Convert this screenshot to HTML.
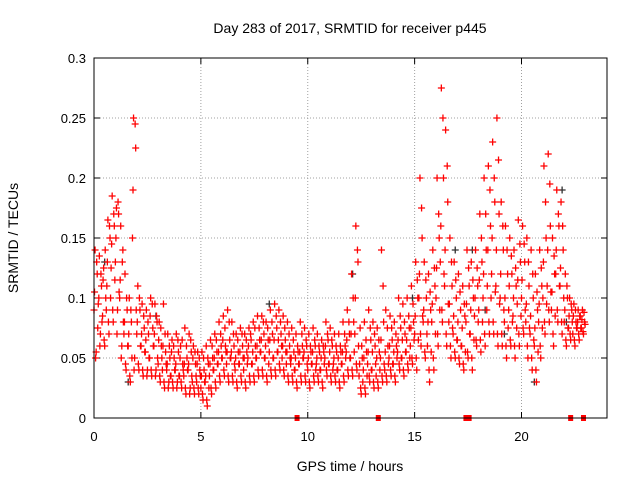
<!DOCTYPE html>
<html><head><meta charset="utf-8">
<style>
body{margin:0;background:#fff;}
svg{display:block;font-family:"Liberation Sans",sans-serif;}
</style></head>
<body>
<svg id="chart" width="640" height="480" xmlns="http://www.w3.org/2000/svg">
<rect width="640" height="480" fill="#fff"/>
<text x="350" y="33" text-anchor="middle" font-size="14">Day 283 of 2017, SRMTID for receiver p445</text>
<text x="350" y="471" text-anchor="middle" font-size="14">GPS time / hours</text>
<text transform="translate(18,238) rotate(-90)" text-anchor="middle" font-size="14">SRMTID / TECUs</text>
<g id="grid"></g><g id="ticks"></g><g id="marks"></g>
<rect x="94" y="58" width="513" height="360" fill="none" stroke="#000" stroke-width="1"/>
</svg>
<script>
// ---- data ----
const slotStep = 0.2; // hours per slot
const slotValues = [ // thousandths of TECU, 4 samples per 0.2h slot
[55,90,120,140],[70,95,110,135],[60,85,100,125],[70,110,150,165],[80,125,160,185],
[90,130,170,175],[60,100,140,160],[40,70,90,120],[30,60,80,100],[50,150,225,250],
[40,70,90,110],[35,60,75,95],[40,55,70,90],[35,50,75,100],[40,60,80,95],
[30,45,60,80],[25,40,55,95],[30,40,50,70],[25,35,50,65],[30,40,55,70],
[25,35,45,60],[20,35,50,75],[25,40,55,70],[20,30,45,60],[20,30,40,55],
[15,25,40,55],[10,30,45,60],[20,35,50,65],[25,40,55,70],[30,45,60,80],
[35,50,60,85],[30,45,65,90],[30,50,60,80],[25,40,55,70],[30,45,60,75],
[25,40,55,70],[30,50,65,75],[30,45,60,80],[35,50,65,85],[35,55,70,85],
[30,50,65,80],[35,55,70,90],[35,50,75,95],[40,55,70,90],[35,50,65,85],
[30,45,60,80],[30,45,55,75],[25,40,55,70],[30,45,60,80],[30,50,60,75],
[25,40,55,70],[30,45,60,75],[30,45,55,70],[25,40,55,65],[35,50,65,80],
[30,45,60,75],[30,45,55,70],[25,40,55,70],[30,45,60,80],[35,55,70,90],
[35,50,80,120],[40,70,130,160],[20,35,50,75],[20,40,55,80],[30,45,65,90],
[25,40,60,80],[25,35,55,75],[30,50,80,140],[30,40,60,90],[35,50,65,85],
[30,45,60,80],[40,55,75,100],[35,50,70,95],[40,55,75,100],[45,60,80,110],
[40,70,100,130],[60,100,150,200],[50,80,100,130],[30,60,90,120],[40,80,110,140],
[60,100,150,200],[80,130,200,275],[60,110,180,240],[50,80,110,150],[50,70,100,130],
[45,65,90,120],[40,60,85,110],[50,80,110,140],[40,70,100,130],[60,85,110,140],
[55,90,130,170],[60,100,140,200],[70,110,160,210],[70,120,180,230],[60,110,170,250],
[60,100,140,180],[50,80,120,160],[60,90,120,150],[50,85,110,140],[60,95,130,165],
[70,100,130,160],[50,80,110,150],[40,70,100,140],[30,60,90,120],[50,80,110,140],
[70,100,150,210],[80,110,160,220],[60,90,120,150],[80,120,160,190],[70,110,140,180],
[60,80,100,120],[65,75,90,100],[60,70,80,95],[65,75,85,90],[70,75,80,90]
];
const slotValues2 = [ // second set of samples per slot, thousandths of TECU
[50,75,105,130],[60,80,100,120],[65,90,115,140],[80,100,130,160],[90,115,145,170],
[70,105,150,180],[50,80,115,130],[45,60,80,100],[35,50,70,90],[40,90,190,245],
[45,60,80,100],[40,55,70,85],[35,50,65,80],[40,60,85,95],[35,50,70,85],
[35,50,65,75],[30,45,60,70],[25,35,45,60],[30,40,55,60],[25,35,45,65],
[30,40,50,65],[25,40,45,60],[20,35,45,65],[25,35,50,55],[25,35,45,50],
[20,30,35,50],[15,25,35,50],[25,40,45,60],[30,45,50,65],[35,50,55,70],
[40,55,65,75],[35,50,55,80],[35,45,55,70],[30,45,50,65],[35,50,55,70],
[30,45,50,65],[35,45,60,70],[35,50,55,75],[40,55,60,75],[40,50,65,80],
[35,45,60,75],[40,50,65,80],[40,55,65,85],[45,60,65,80],[40,55,60,75],
[35,50,55,70],[35,40,50,65],[30,45,50,60],[35,50,55,70],[35,45,55,65],
[30,45,50,60],[35,40,55,65],[35,40,50,60],[30,45,50,60],[40,45,60,70],
[35,40,55,65],[35,40,50,60],[30,45,50,60],[35,50,55,70],[40,50,65,80],
[40,55,70,100],[45,60,100,140],[25,30,45,60],[25,35,50,65],[35,40,55,75],
[30,45,55,70],[30,40,50,65],[35,45,65,110],[35,45,55,75],[40,45,60,75],
[35,50,55,70],[45,50,65,85],[40,55,65,80],[45,50,65,85],[50,65,75,95],
[50,65,85,115],[70,85,120,175],[55,70,90,115],[40,55,80,105],[50,70,95,125],
[70,90,125,170],[90,120,160,250],[70,95,140,210],[60,75,95,130],[55,65,85,115],
[50,60,80,105],[45,55,75,95],[55,70,95,125],[50,65,90,115],[65,80,100,125],
[65,80,115,150],[70,90,120,170],[80,100,140,190],[80,105,150,200],[70,95,140,215],
[70,90,120,160],[60,75,100,140],[65,80,110,135],[60,75,100,125],[70,85,115,145],
[75,90,115,145],[60,75,95,130],[50,65,85,120],[40,55,75,105],[60,75,95,125],
[80,95,130,180],[90,105,140,195],[70,85,105,135],[90,110,140,170],[80,100,125,160],
[65,75,90,110],[70,80,85,95],[65,75,85,90],[70,75,80,85],[72,78,82,88]
];
const darkTimes = [0.5,1.6,2.9,8.2,12.1,14.9,16.9,17.7,18.3,19.2,20.6,21.9,22.1];
const darkValues = [0.13,0.03,0.085,0.095,0.12,0.10,0.14,0.14,0.09,0.07,0.03,0.19,0.08];
const gapTimes = [9.5,13.3,17.4,17.55,22.3,22.9];
const xTicks = [0,5,10,15,20];
const yTicks = [0,0.05,0.1,0.15,0.2,0.25,0.3];
const yTickLabels = ["0","0.05","0.1","0.15","0.2","0.25","0.3"];

// ---- axes ----
const X0=94,X1=607,Y0=418,Y1=58;
const xs=t=>X0+(t/24)*(X1-X0);
const ys=v=>Y0-(v/0.3)*(Y0-Y1);
const NS="http://www.w3.org/2000/svg";
function mk(tag,attrs,parent){const e=document.createElementNS(NS,tag);for(const k in attrs)e.setAttribute(k,attrs[k]);parent.appendChild(e);return e;}
const grid=document.getElementById('grid'),ticks=document.getElementById('ticks'),marks=document.getElementById('marks');

yTicks.forEach((v,i)=>{
  const y=ys(v);
  if(i>0&&i<yTicks.length-1){const g=mk('line',{x1:X0,x2:X1,y1:y,y2:y,stroke:'#a0a0a0','stroke-dasharray':'1,2'},grid);
  
  }
  mk('line',{x1:X0,x2:X0+6,y1:y,y2:y,stroke:'#000'},ticks);
  mk('line',{x1:X1,x2:X1-6,y1:y,y2:y,stroke:'#000'},ticks);
  const t=mk('text',{x:X0-8,y:y+5,'text-anchor':'end','font-size':'13'},ticks);
  t.textContent=yTickLabels[i];
  
  
});
xTicks.forEach((h,i)=>{
  const x=xs(h);
  if(i>0){const g=mk('line',{x1:x,x2:x,y1:Y1,y2:Y0,stroke:'#a0a0a0','stroke-dasharray':'1,2'},grid);
  
  }
  mk('line',{x1:x,x2:x,y1:Y0,y2:Y0-6,stroke:'#000'},ticks);
  mk('line',{x1:x,x2:x,y1:Y1,y2:Y1+6,stroke:'#000'},ticks);
  const t=mk('text',{x:x,y:Y0+23,'text-anchor':'middle','font-size':'13'},ticks);
  t.textContent=String(h);
  
  
});

function plus(x,y,color,name){
  const p=mk('path',{d:`M${x-3.5},${y}h7M${x},${y-3.5}v7`,stroke:color,'stroke-width':'1.3',fill:'none'},marks);
  
  
}
darkTimes.forEach((t,i)=>plus(xs(t),ys(darkValues[i]),'#303030','dark-point'));
const order=[2,0,3,1];
const order2=[1,3,0,2];
slotValues.forEach((vals,i)=>{
  const t0=i*slotStep;
  vals.forEach((v,k)=>plus(xs(t0+order[k]*slotStep/4),ys(v/1000),'#ff0000','srmtid-point'));
});
slotValues2.forEach((vals,i)=>{
  const t0=i*slotStep+slotStep/8;
  vals.forEach((v,k)=>plus(xs(t0+order2[k]*slotStep/4),ys(v/1000),'#ff0000','srmtid-point'));
});
gapTimes.forEach(t=>{
  const r=mk('rect',{x:xs(t)-2.5,y:Y0-3,width:5,height:6,fill:'#ff0000'},marks);
  
  
});
</script>
</body></html>
